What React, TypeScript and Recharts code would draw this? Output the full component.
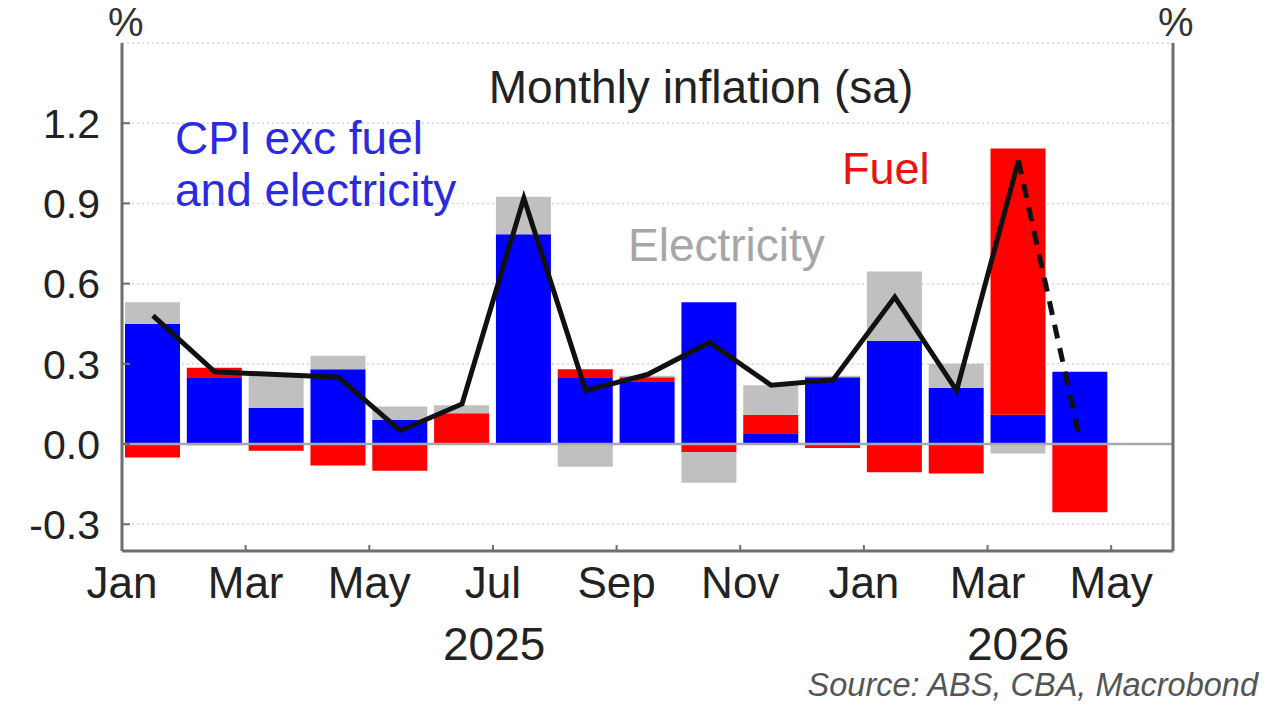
import {
  ComposedChart,
  Bar,
  Line,
  XAxis,
  YAxis,
  CartesianGrid,
  ReferenceLine,
} from 'recharts';

// Jan 2025 .. Apr 2026
const months = [
  'Jan 25', 'Feb 25', 'Mar 25', 'Apr 25', 'May 25', 'Jun 25', 'Jul 25', 'Aug 25',
  'Sep 25', 'Oct 25', 'Nov 25', 'Dec 25', 'Jan 26', 'Feb 26', 'Mar 26', 'Apr 26',
];
const cpiExFuelElec = [0.45, 0.25, 0.135, 0.28, 0.09, 0.0, 0.785, 0.25, 0.235, 0.53, 0.04, 0.25, 0.385, 0.21, 0.11, 0.27];
const fuel = [-0.05, 0.035, -0.025, -0.08, -0.1, 0.115, 0.0, 0.03, 0.015, -0.03, 0.07, -0.015, -0.105, -0.11, 0.995, -0.255];
const electricity = [0.08, -0.005, 0.12, 0.05, 0.05, 0.03, 0.14, -0.085, 0.005, -0.115, 0.11, 0.005, 0.26, 0.09, -0.035, 0.0];
const total = [0.48, 0.27, 0.26, 0.25, 0.05, 0.15, 0.92, 0.2, 0.26, 0.38, 0.22, 0.24, 0.55, 0.2, 1.06, 0.01];
const forecastFrom = 14; // Mar 26 -> Apr 26 dashed

const tickPositions = [0, 2, 4, 6, 8, 10, 12, 14, 16];
const tickLabels = ['Jan', 'Mar', 'May', 'Jul', 'Sep', 'Nov', 'Jan', 'Mar', 'May'];
const yTicks = [-0.3, 0, 0.3, 0.6, 0.9, 1.2];

const FONT = '"Liberation Sans", Arial, sans-serif';
const AXIS = '#6e6e6e';

const chartData = months.map((m, i) => ({
  month: m,
  x: i + 0.5,
  cpi: cpiExFuelElec[i],
  fuel: fuel[i],
  elec: electricity[i],
  actual: i <= forecastFrom ? total[i] : null,
  forecast: i >= forecastFrom ? total[i] : null,
}));

const LeftTick = (props: any) => {
  const { x, y, payload } = props;
  return (
    <g>
      <line x1={x} x2={x + 8} y1={y} y2={y} stroke={AXIS} strokeWidth={2} />
      <text x={x - 22} y={y} dy="0.36em" textAnchor="end" fontSize={41} fill="#222" fontFamily={FONT}>
        {Number(payload.value).toFixed(1)}
      </text>
    </g>
  );
};

const RightTick = (props: any) => {
  const { x, y, payload } = props;
  return (
    <g>
      <line x1={x} x2={x - 8} y1={y} y2={y} stroke={AXIS} strokeWidth={2} />
      <text x={x + 8} y={y} dy="0.36em" textAnchor="start" fontSize={41} fill="#222" fontFamily={FONT}>
        {Number(payload.value).toFixed(1)}
      </text>
    </g>
  );
};

const MonthTick = (props: any) => {
  const { x, y, index } = props;
  return (
    <g>
      <line x1={x} x2={x} y1={y} y2={y - 6} stroke={AXIS} strokeWidth={2} />
      <text x={x} y={y + 47} textAnchor="middle" fontSize={44} fill="#222" fontFamily={FONT}>
        {tickLabels[index]}
      </text>
    </g>
  );
};

const txt = (extra: React.CSSProperties): React.CSSProperties => ({
  position: 'absolute',
  fontFamily: FONT,
  whiteSpace: 'nowrap',
  lineHeight: 1,
  ...extra,
});

export default function App() {
  return (
    <div style={{ position: 'absolute', left: 0, top: 0, width: 1280, height: 720, background: '#fff' }}>
      <ComposedChart
        width={1280}
        height={720}
        data={chartData}
        stackOffset="sign"
        margin={{ top: 43, right: 0, bottom: 109, left: 0 }}
      >
        <CartesianGrid vertical={false} stroke="#d6d6d6" strokeDasharray="2 3" strokeWidth={1.5} />
        <XAxis
          dataKey="x"
          type="number"
          domain={[0, 17]}
          ticks={tickPositions}
          interval={0}
          height={60}
          tickSize={0}
          tickMargin={0}
          tick={<MonthTick />}
          axisLine={{ stroke: AXIS, strokeWidth: 3 }}
        />
        <XAxis
          xAxisId="top"
          orientation="top"
          type="number"
          domain={[0, 17]}
          height={0}
          tick={false}
          tickLine={false}
          axisLine={{ stroke: AXIS, strokeWidth: 3 }}
        />
        <YAxis
          domain={[-0.4, 1.5]}
          ticks={yTicks}
          width={122}
          tickSize={0}
          tickMargin={0}
          tick={<LeftTick />}
          axisLine={{ stroke: AXIS, strokeWidth: 3 }}
        />
        <YAxis
          yAxisId="right"
          orientation="right"
          domain={[-0.4, 1.5]}
          ticks={yTicks}
          width={107}
          tickSize={0}
          tickMargin={0}
          tick={<RightTick />}
          axisLine={{ stroke: AXIS, strokeWidth: 3 }}
        />
        <ReferenceLine y={0} stroke="#a8a8a8" strokeWidth={2.5} />
        <Bar dataKey="cpi" stackId="a" fill="#0000ff" barSize={55} isAnimationActive={false} />
        <Bar dataKey="fuel" stackId="a" fill="#ff0000" barSize={55} isAnimationActive={false} />
        <Bar dataKey="elec" stackId="a" fill="#c0c0c0" barSize={55} isAnimationActive={false} />
        <Line
          dataKey="actual"
          stroke="#111"
          strokeWidth={5}
          dot={false}
          activeDot={false}
          isAnimationActive={false}
        />
        <Line
          dataKey="forecast"
          stroke="#111"
          strokeWidth={5}
          strokeDasharray="14 10"
          dot={false}
          activeDot={false}
          isAnimationActive={false}
        />
      </ComposedChart>

      <div style={txt({ left: 108, top: 2, fontSize: 40, color: '#333' })}>%</div>
      <div style={txt({ left: 1158, top: 2, fontSize: 40, color: '#333' })}>%</div>
      <div style={txt({ left: 0, width: 1402, top: 64, fontSize: 46, color: '#222', textAlign: 'center' })}>
        Monthly inflation (sa)
      </div>
      <div style={txt({ left: 175, top: 112, fontSize: 46, color: '#2a2ae0', lineHeight: '52px' })}>
        CPI exc fuel
        <br />
        and electricity
      </div>
      <div style={txt({ left: 842, top: 146, fontSize: 45, color: '#f01010' })}>Fuel</div>
      <div style={txt({ left: 628, top: 222, fontSize: 46, color: '#a6a6a6' })}>Electricity</div>
      <div style={txt({ left: 443, top: 621, fontSize: 46, color: '#222' })}>2025</div>
      <div style={txt({ left: 967, top: 621, fontSize: 46, color: '#222' })}>2026</div>
      <div style={txt({ right: 22, top: 669, fontSize: 32.5, color: '#555', fontStyle: 'italic' })}>
        Source: ABS, CBA, Macrobond
      </div>
    </div>
  );
}
